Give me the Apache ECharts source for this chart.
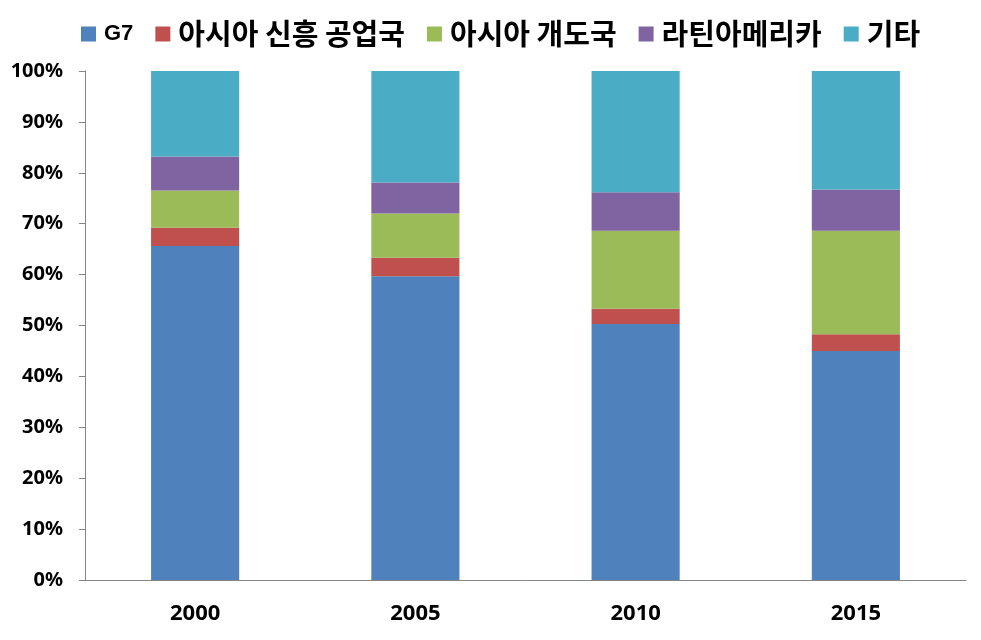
<!DOCTYPE html>
<html><head><meta charset="utf-8">
<script src="https://cdn.jsdelivr.net/npm/echarts@6/dist/echarts.min.js"></script>
<style>html,body{margin:0;padding:0;background:#fff}#c{width:981px;height:640px}</style>
</head><body><div id="c"></div>
<script>
const categories = ['2000', '2005', '2010', '2015'];
const seriesNames = ['G7', '아시아 신흥 공업국', '아시아 개도국', '라틴아메리카', '기타'];
const g7 = [65.6, 59.7, 50.3, 45.0];
const asiaNics = [3.6, 3.6, 3.0, 3.3];
const asiaDev = [7.3, 8.7, 15.3, 20.3];
const latam = [6.7, 6.1, 7.6, 8.1];
const others = [16.8, 21.9, 23.8, 23.3];
const yTicks = [0, 10, 20, 30, 40, 50, 60, 70, 80, 90, 100];
const colors = ['#4F81BD', '#C0504D', '#9BBB59', '#8064A2', '#4BACC6'];
const values = [g7, asiaNics, asiaDev, latam, others];

const legendData = seriesNames.map(n => n === 'G7'
  ? { name: n, textStyle: { fontFamily: 'Liberation Sans', fontWeight: 'bold', fontSize: 22, lineHeight: 22, color: '#000', padding: [0, 0, 10, 3] } }
  : { name: n, textStyle: { fontFamily: 'Noto Sans CJK KR', fontWeight: 'bold', fontSize: 29, lineHeight: 30, color: '#000', padding: [8, 0, 0, 3] } });

const chart = echarts.init(document.getElementById('c'));
chart.setOption({
  animation: false,
  color: colors,
  legend: {
    top: 10,
    left: 76,
    itemWidth: 15, itemHeight: 15,
    itemGap: 22,
    icon: 'rect',
    textStyle: { color: '#000', fontWeight: 'bold', fontSize: 29 },
    data: legendData
  },
  grid: { left: 85, right: 15, top: 71, bottom: 60 },
  xAxis: {
    type: 'category', data: categories,
    axisLine: { lineStyle: { color: '#868686' } },
    axisTick: { length: 8, lineStyle: { color: '#868686' } },
    axisLabel: { margin: 23, fontFamily: 'Noto Sans', fontWeight: 'bold', fontSize: 22, color: '#000' }
  },
  yAxis: {
    type: 'value', min: 0, max: 100, interval: 10,
    axisLine: { show: true, lineStyle: { color: '#868686' } },
    axisTick: { show: true, length: 6, lineStyle: { color: '#868686' } },
    splitLine: { show: false },
    axisLabel: { margin: 22, formatter: v => yTicks.includes(v) ? v + '%' : '', fontFamily: 'Noto Sans', fontWeight: 'bold', fontSize: 20, color: '#000' }
  },
  series: values.map((d, i) => ({
    name: seriesNames[i], type: 'bar', stack: 'total', barWidth: '40%', data: d
  }))
});
</script></body></html>
